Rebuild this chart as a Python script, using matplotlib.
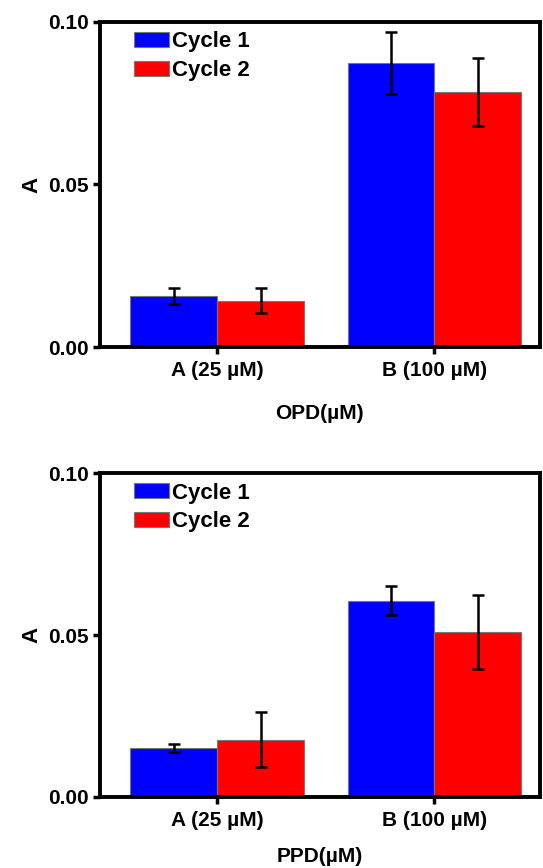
import matplotlib.pyplot as plt
import numpy as np

plt.rcParams['font.family'] = ['Liberation Sans', 'DejaVu Sans']
plt.rcParams['font.weight'] = 'bold'
plt.rcParams['axes.labelweight'] = 'bold'

groups = ['A (25 µM)', 'B (100 µM)']
series = ['Cycle 1', 'Cycle 2']
colors = ['#0000ff', '#ff0000']

opd_c1 = [0.0157, 0.0873]
opd_c1_err = [0.0024, 0.0095]
opd_c2 = [0.0143, 0.0785]
opd_c2_err = [0.0038, 0.0104]

ppd_c1 = [0.0152, 0.0606]
ppd_c1_err = [0.0013, 0.0045]
ppd_c2 = [0.0177, 0.0509]
ppd_c2_err = [0.0084, 0.0114]

fig = plt.figure(figsize=(5.43, 8.68), dpi=100)
ax1 = fig.add_axes([0.184, 0.6002, 0.81, 0.3745])
ax2 = fig.add_axes([0.184, 0.0818, 0.81, 0.3732])

x = np.arange(len(groups))
w = 0.4

def draw(ax, c1, e1, c2, e2, xlabel, xpad):
    ax.bar(x - w / 2, c1, w, color=colors[0], edgecolor='#777777', linewidth=0.8,
           yerr=e1, capsize=4, error_kw=dict(elinewidth=1.8, capthick=1.8, ecolor='black'),
           label=series[0])
    ax.bar(x + w / 2, c2, w, color=colors[1], edgecolor='#777777', linewidth=0.8,
           yerr=e2, capsize=4, error_kw=dict(elinewidth=1.8, capthick=1.8, ecolor='black'),
           label=series[1])
    ax.set_xlim(-0.54, 1.485)
    ax.set_ylim(0, 0.1)
    ax.set_yticks([0.0, 0.05, 0.10])
    ax.set_yticklabels(['0.00', '0.05', '0.10'])
    ax.set_xticks(x)
    ax.set_xticklabels(groups)
    for s in ax.spines.values():
        s.set_linewidth(2.8)
    ax.tick_params(axis='both', width=2.5, length=5, labelsize=15)
    ax.tick_params(axis='x', pad=5)
    ax.tick_params(axis='y', pad=3)
    ax.set_ylabel('A', fontsize=16, labelpad=4)
    ax.set_xlabel(xlabel, fontsize=15, labelpad=xpad)
    ax.legend(loc='upper left', frameon=False, fontsize=16, handlelength=1.6,
              handleheight=0.65, handletextpad=0.1, labelspacing=0.35,
              borderaxespad=0, bbox_to_anchor=(0.057, 0.998))

draw(ax1, opd_c1, opd_c1_err, opd_c2, opd_c2_err, 'OPD(µM)', 17)
draw(ax2, ppd_c1, ppd_c1_err, ppd_c2, ppd_c2_err, 'PPD(µM)', 12)

fig.savefig('out.png', dpi=100)
